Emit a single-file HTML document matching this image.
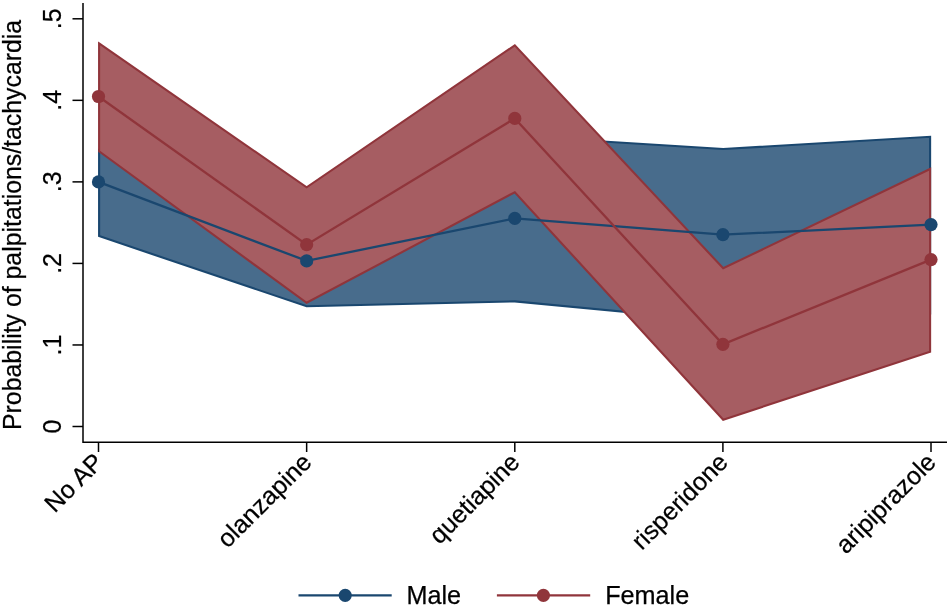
<!DOCTYPE html>
<html><head><meta charset="utf-8"><title>Chart</title><style>
html,body{margin:0;padding:0;background:#fff;}
svg{display:block;will-change:transform;}
text{font-family:"Liberation Sans",sans-serif;font-size:25px;fill:#000;stroke:#000;stroke-width:0.25px;}
</style></head><body>
<svg width="950" height="607" viewBox="0 0 950 607">
<rect width="950" height="607" fill="#ffffff"/>
<polygon points="99.10,150.00 306.65,212.00 514.80,136.00 723.20,149.00 930.10,136.80 930.10,313.50 723.20,321.30 514.80,301.40 306.65,306.30 99.10,236.10" fill="#486C8C" stroke="#1A476F" stroke-width="2.1" stroke-linejoin="miter"/>
<polygon points="99.10,43.40 306.65,187.30 514.80,45.30 723.20,268.30 930.10,169.00 930.10,351.70 723.20,419.70 514.80,192.20 306.65,302.80 99.10,151.30" fill="#A65D62" stroke="#90353B" stroke-width="2.1" stroke-linejoin="miter"/>
<polyline points="98.50,181.90 306.65,260.90 514.80,218.40 722.90,234.70 931.00,224.60" fill="none" stroke="#1A476F" stroke-width="2.3"/>
<circle cx="98.5" cy="181.9" r="6.6" fill="#1A476F"/>
<circle cx="306.65" cy="260.9" r="6.6" fill="#1A476F"/>
<circle cx="514.8" cy="218.4" r="6.6" fill="#1A476F"/>
<circle cx="722.9" cy="234.7" r="6.6" fill="#1A476F"/>
<circle cx="931.0" cy="224.6" r="6.6" fill="#1A476F"/>
<polyline points="98.50,96.50 306.65,244.70 514.80,118.40 722.90,344.30 931.00,259.60" fill="none" stroke="#90353B" stroke-width="2.3"/>
<circle cx="98.5" cy="96.5" r="6.6" fill="#90353B"/>
<circle cx="306.65" cy="244.7" r="6.6" fill="#90353B"/>
<circle cx="514.8" cy="118.4" r="6.6" fill="#90353B"/>
<circle cx="722.9" cy="344.3" r="6.6" fill="#90353B"/>
<circle cx="931.0" cy="259.6" r="6.6" fill="#90353B"/>
<g stroke="#000" stroke-width="1.5" fill="none">
<path d="M83 3 V442.3 H947"/>
<path d="M72.5 426.50 H83"/>
<path d="M72.5 344.96 H83"/>
<path d="M72.5 263.42 H83"/>
<path d="M72.5 181.88 H83"/>
<path d="M72.5 100.34 H83"/>
<path d="M72.5 18.80 H83"/>
<path d="M98.5 442.3 V452"/>
<path d="M306.65 442.3 V452"/>
<path d="M514.8 442.3 V452"/>
<path d="M722.9 442.3 V452"/>
<path d="M931.0 442.3 V452"/>
</g>
<text transform="translate(60.5 426.50) rotate(-90)" text-anchor="middle">0</text>
<text transform="translate(60.5 344.96) rotate(-90)" text-anchor="middle">.1</text>
<text transform="translate(60.5 263.42) rotate(-90)" text-anchor="middle">.2</text>
<text transform="translate(60.5 181.88) rotate(-90)" text-anchor="middle">.3</text>
<text transform="translate(60.5 100.34) rotate(-90)" text-anchor="middle">.4</text>
<text transform="translate(60.5 18.80) rotate(-90)" text-anchor="middle">.5</text>
<text transform="translate(21 430) rotate(-90)" style="font-size:24.85px">Probability of palpitations/tachycardia</text>
<text transform="translate(104.90 463.6) rotate(-45)" text-anchor="end">No AP</text>
<text transform="translate(313.05 463.6) rotate(-45)" text-anchor="end">olanzapine</text>
<text transform="translate(521.20 463.6) rotate(-45)" text-anchor="end">quetiapine</text>
<text transform="translate(729.30 463.6) rotate(-45)" text-anchor="end">risperidone</text>
<text transform="translate(937.40 463.6) rotate(-45)" text-anchor="end">aripiprazole</text>
<path d="M298.5 595.3 H391.7" stroke="#1A476F" stroke-width="2.3"/><circle cx="345.2" cy="595.3" r="6.6" fill="#1A476F"/>
<text transform="translate(406.4 604) rotate(-0.02)" style="font-size:25.2px">Male</text>
<path d="M496.9 595.3 H590.2" stroke="#90353B" stroke-width="2.3"/><circle cx="543.4" cy="595.3" r="6.6" fill="#90353B"/>
<text transform="translate(605.2 604) rotate(-0.02)" style="font-size:25.2px">Female</text>
</svg></body></html>
